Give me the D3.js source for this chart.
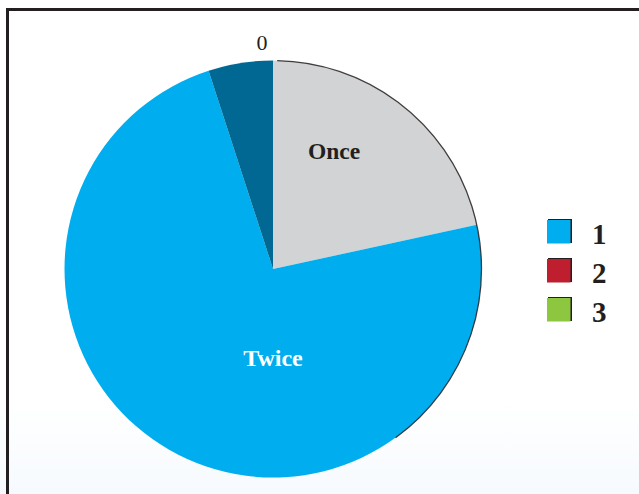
<!DOCTYPE html>
<html><head><meta charset="utf-8">
<script src="https://cdn.jsdelivr.net/npm/d3@7"></script>
<style>html,body{margin:0;padding:0;background:#fff;overflow:hidden}</style>
</head><body>
<svg id="c" width="639" height="494"></svg>
<script>
const categories = ["Once", "Twice", "0"];
const values = [21.6, 73.4, 5.0];
const sliceColors = ["#d1d3d4", "#00aeef", "#006892"];
const legendLabels = ["1", "2", "3"];
const legendColors = ["#00aeef", "#be1e2d", "#8dc63f"];

const svg = d3.select("#c");
const defs = svg.append("defs");
const g = defs.append("linearGradient").attr("id","bg").attr("x1",0).attr("y1",0).attr("x2",0).attr("y2",1);
g.append("stop").attr("offset","0%").attr("stop-color","#ffffff");
g.append("stop").attr("offset","100%").attr("stop-color","#f6fafe");
svg.append("rect").attr("x",0).attr("y",400).attr("width",639).attr("height",94).attr("fill","url(#bg)");

// frame
svg.append("path").attr("d","M7.5,494 L7.5,9.5 L645,9.5")
  .attr("fill","none").attr("stroke","#231f20").attr("stroke-width",3);

const cx = 273, cy = 269, r = 208.5;
const pie = d3.pie().sort(null).value(d => d)(values);
const arc = d3.arc().innerRadius(0).outerRadius(r);
const pg = svg.append("g").attr("transform",`translate(${cx},${cy})`);
pg.selectAll("path.s").data(pie).join("path").attr("class","s")
  .attr("d", arc).attr("fill",(d,i)=>sliceColors[i]);
// outline shadow on right side
pg.append("path")
  .attr("d", d3.arc().innerRadius(r).outerRadius(r)({startAngle:0.02, endAngle:Math.PI*0.8}))
  .attr("fill","none").attr("stroke","#231f20").attr("stroke-width",1.3).attr("stroke-opacity",0.85);

const labelPos = [[61,-110],[0,97]];
pg.append("text").attr("x",labelPos[0][0]).attr("y",labelPos[0][1])
  .attr("text-anchor","middle").attr("font-family","Liberation Serif").attr("font-weight","bold")
  .attr("font-size",23.5).attr("fill","#231f20").text(categories[0]);
pg.append("text").attr("x",labelPos[1][0]).attr("y",labelPos[1][1])
  .attr("text-anchor","middle").attr("font-family","Liberation Serif").attr("font-weight","bold")
  .attr("font-size",24).attr("fill","#ffffff").text(categories[1]);
// outside label of small slice
pg.append("text").attr("x",-11).attr("y",-r-11)
  .attr("text-anchor","middle").attr("font-family","Liberation Serif")
  .attr("font-size",22).attr("fill","#231f20").text(categories[2]);

// legend
const lg = svg.append("g");
legendLabels.forEach((l,i)=>{
  const yy = 220 + i*39;
  lg.append("rect").attr("x",548).attr("y",yy-1).attr("width",24).attr("height",24).attr("fill","#231f20");
  lg.append("rect").attr("x",547).attr("y",yy).attr("width",23.5).attr("height",23.5).attr("fill",legendColors[i]);
  lg.append("text").attr("x",592).attr("y",yy+24).attr("font-family","Liberation Serif")
    .attr("font-weight","bold").attr("font-size",29).attr("fill","#231f20").text(l);
});
</script>
</body></html>
